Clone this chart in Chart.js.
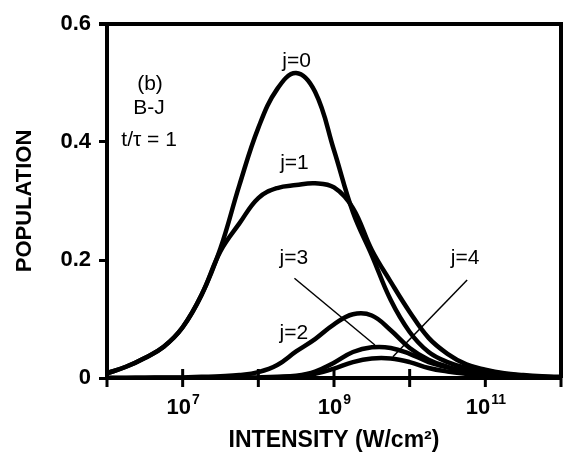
<!DOCTYPE html>
<html>
<head>
<meta charset="utf-8">
<script src="https://cdn.jsdelivr.net/npm/chart.js@4/dist/chart.umd.min.js"></script>
<style>
  body { margin: 0; background: #fff; }
  canvas { display: block; }
</style>
</head>
<body>
<canvas id="popChart" width="566" height="455"></canvas>
<script>
// intensity grid (W/cm^2), quarter decades from 1e6 to 1e12
const intensity = [1e6, 1.78e6, 3.16e6, 5.62e6, 1e7, 1.78e7, 3.16e7, 5.62e7,
    1e8, 1.78e8, 3.16e8, 5.62e8, 1e9, 1.78e9, 3.16e9, 5.62e9,
    1e10, 1.78e10, 3.16e10, 5.62e10, 1e11, 1.78e11, 3.16e11, 5.62e11, 1e12];

// population of rotational level j
const j0 = [0.008, 0.019, 0.034, 0.053, 0.086, 0.141, 0.220, 0.327, 0.424, 0.490, 0.517, 0.485, 0.386,
    0.281, 0.208, 0.132, 0.078, 0.044, 0.027, 0.017, 0.012, 0.007, 0.004, 0.002, 0.001];
const j1 = [0.008, 0.019, 0.034, 0.053, 0.086, 0.141, 0.215, 0.262, 0.305, 0.322, 0.327, 0.330, 0.323,
    0.288, 0.217, 0.163, 0.112, 0.068, 0.041, 0.023, 0.014, 0.008, 0.005, 0.003, 0.002];
const j2 = [0, 0, 0.0005, 0.001, 0.001, 0.002, 0.003, 0.005, 0.010, 0.022, 0.045, 0.066, 0.091,
    0.108, 0.106, 0.081, 0.051, 0.031, 0.019, 0.010, 0.005, 0.003, 0.002, 0.001, 0.0005];
const j3 = [0, 0, 0, 0, 0, 0, 0, 0.0005, 0.001, 0.002, 0.004, 0.011, 0.026,
    0.044, 0.052, 0.051, 0.041, 0.027, 0.018, 0.012, 0.007, 0.004, 0.002, 0.001, 0.0005];
const j4 = [0, 0, 0, 0, 0, 0, 0, 0, 0, 0.001, 0.003, 0.007, 0.016,
    0.027, 0.033, 0.033, 0.027, 0.017, 0.011, 0.007, 0.004, 0.003, 0.002, 0.001, 0.0005];

// axis ticks
const xDecades = [6, 7, 8, 9, 10, 11, 12];
const xLabelled = [7, 9, 11];
const yTicks = [0, 0.2, 0.4, 0.6];

// leader lines from labels j=3 and j=4 to their curves
const lead3 = [{ x: 3.0e8, y: 0.169 }, { x: 3.47e9, y: 0.056 }];
const lead4 = [{ x: 5.75e10, y: 0.166 }, { x: 6.0e9, y: 0.036 }];

// text notes placed in data coordinates
const notes = [
    { text: 'j=0', x: 3.2e8, y: 0.537 },
    { text: 'j=1', x: 3.0e8, y: 0.364 },
    { text: 'j=3', x: 2.95e8, y: 0.203 },
    { text: 'j=4', x: 5.4e10, y: 0.203 },
    { text: 'j=2', x: 2.95e8, y: 0.076 },
    { text: '(b)', x: 3.7e6, y: 0.498 },
    { text: 'B-J', x: 3.6e6, y: 0.458 },
    { text: 't/\u03c4 = 1', x: 3.6e6, y: 0.403 }
];

const FONT = '"Liberation Sans", Arial, sans-serif';

function curve(values) {
    return {
        data: intensity.map((x, i) => ({ x: x, y: values[i] })),
        borderColor: '#000',
        borderWidth: 4.5,
        pointRadius: 0,
        fill: false,
        tension: 0.4
    };
}

function leader(points) {
    return {
        data: points,
        borderColor: '#000',
        borderWidth: 1.5,
        pointRadius: 0,
        fill: false,
        tension: 0
    };
}

const decorations = {
    id: 'decorations',
    afterDraw(chart) {
        const ctx = chart.ctx;
        const area = chart.chartArea;
        const xs = chart.scales.x;
        const ys = chart.scales.y;
        ctx.save();
        ctx.strokeStyle = '#000';
        ctx.fillStyle = '#000';

        // top and right frame
        ctx.lineWidth = 4;
        ctx.beginPath();
        ctx.moveTo(area.left - 8, area.top);
        ctx.lineTo(area.right, area.top);
        ctx.lineTo(area.right, area.bottom);
        ctx.stroke();

        // x tick marks crossing the axis
        ctx.lineWidth = 3;
        xDecades.forEach(e => {
            const px = xs.getPixelForValue(Math.pow(10, e));
            ctx.beginPath();
            ctx.moveTo(px, area.bottom - 9);
            ctx.lineTo(px, area.bottom + 9);
            ctx.stroke();
        });

        // x tick labels with superscript exponents
        xLabelled.forEach(e => {
            const px = xs.getPixelForValue(Math.pow(10, e));
            ctx.font = 'bold 22px ' + FONT;
            const wBase = ctx.measureText('10').width;
            ctx.font = 'bold 14px ' + FONT;
            const wExp = ctx.measureText(String(e)).width;
            const start = px - (wBase + wExp) / 2;
            ctx.textAlign = 'left';
            ctx.textBaseline = 'alphabetic';
            ctx.font = 'bold 22px ' + FONT;
            ctx.fillText('10', start, area.bottom + 36);
            ctx.font = 'bold 14px ' + FONT;
            ctx.fillText(String(e), start + wBase + 1, area.bottom + 26);
        });

        // notes
        ctx.font = '21px ' + FONT;
        ctx.textAlign = 'center';
        ctx.textBaseline = 'middle';
        notes.forEach(n => {
            ctx.fillText(n.text, xs.getPixelForValue(n.x), ys.getPixelForValue(n.y));
        });
        ctx.restore();
    }
};

function initChart() {
    const ctx = document.getElementById('popChart').getContext('2d');
    new Chart(ctx, {
        type: 'line',
        data: {
            datasets: [curve(j0), curve(j1), curve(j2), curve(j3), curve(j4), leader(lead3), leader(lead4)]
        },
        options: {
            responsive: false,
            animation: false,
            devicePixelRatio: 1,
            layout: { padding: { top: 24, right: 5, left: 0, bottom: 0 } },
            plugins: {
                legend: { display: false },
                tooltip: { enabled: false }
            },
            scales: {
                x: {
                    type: 'logarithmic',
                    min: 1e6,
                    max: 1e12,
                    afterBuildTicks: scale => {
                        scale.ticks = xDecades.map(e => ({ value: Math.pow(10, e) }));
                    },
                    afterFit: scale => { scale.height = 77; },
                    ticks: { display: false },
                    grid: { display: false },
                    border: { display: true, color: '#000', width: 4 },
                    title: {
                        display: true,
                        text: 'INTENSITY (W/cm\u00b2)',
                        color: '#000',
                        font: { family: FONT, size: 23, weight: 'bold' },
                        padding: { top: 0, bottom: 1 }
                    }
                },
                y: {
                    min: 0,
                    max: 0.6,
                    afterBuildTicks: scale => {
                        scale.ticks = yTicks.map(v => ({ value: v }));
                    },
                    afterFit: scale => { scale.width = 107; },
                    ticks: {
                        color: '#000',
                        padding: 8,
                        font: { family: FONT, size: 22, weight: 'bold' },
                        callback: v => (v === 0 ? '0' : v.toFixed(1))
                    },
                    grid: {
                        drawOnChartArea: false,
                        color: '#000',
                        tickLength: 8,
                        tickWidth: 3
                    },
                    border: { display: true, color: '#000', width: 4 },
                    title: {
                        display: true,
                        text: 'POPULATION',
                        color: '#000',
                        font: { family: FONT, size: 22, weight: 'bold' },
                        padding: { top: 12, bottom: 0 }
                    }
                }
            }
        },
        plugins: [decorations]
    });
}

document.addEventListener('DOMContentLoaded', initChart);
</script>
</body>
</html>
